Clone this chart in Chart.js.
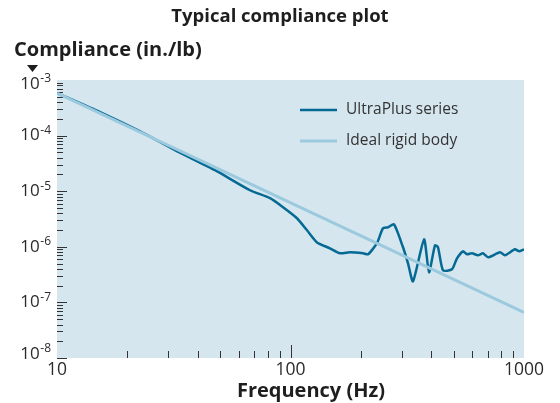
<!DOCTYPE html>
<html>
<head>
<meta charset="utf-8">
<script src="https://cdn.jsdelivr.net/npm/chart.js@4/dist/chart.umd.min.js"></script>
<style>
  body { margin: 0; background: #fff; }
  #wrap { width: 560px; height: 403px; }
</style>
</head>
<body>
<div id="wrap"><canvas id="myChart" width="560" height="403"></canvas></div>
<script>
// values
const freq = [10, 15.3, 22.6, 32.0, 47.5, 67.1, 81.7, 92.9, 106.6, 117.7, 129.9, 147.5, 162.9, 179.8,
  204.6, 214.9, 234.6, 248.9, 261.6, 277.4, 303.3, 318.6, 334.7, 373.3, 391.9, 415.7, 428.3, 449.8,
  491.7, 516.4, 548.0, 570.0, 598.6, 635.3, 667.4, 701.5, 789.2, 829.0, 915.0, 952.5, 1000]
const ultraPlus = [5.83e-4, 2.65e-4, 1.20e-4, 5.48e-5, 2.39e-5, 1.04e-5, 7.48e-6, 5.15e-6, 3.26e-6, 1.98e-6,
  1.20e-6, 9.40e-7, 7.64e-7, 7.96e-7, 7.64e-7, 7.33e-7, 1.16e-6, 2.15e-6, 2.24e-6, 2.54e-6, 9.80e-7,
  5.04e-7, 2.39e-7, 1.36e-6, 3.48e-7, 1.06e-6, 9.80e-7, 3.78e-7, 3.94e-7, 6.21e-7, 8.30e-7, 7.33e-7,
  7.64e-7, 7.03e-7, 7.64e-7, 6.47e-7, 7.96e-7, 7.03e-7, 9.01e-7, 8.30e-7, 9.01e-7]
const idealFreq = [10, 1000]
const idealRigid = [5.8e-4, 6.6e-8]

const seriesNames = ['UltraPlus series', 'Ideal rigid body']
const yExponents = [-3, -4, -5, -6, -7, -8]
const xTickLabels = [10, 100, 1000]

const darkBlue = '#046a93'
const lightBlue = '#9bc9de'
const textColor = '#2b2b2b'
const font = '"Open Sans", "DejaVu Sans", sans-serif'

function toPoints(xs, ys) {
  return xs.map((x, i) => ({ x: x, y: ys[i] }))
}

// background, ticks, labels, legend and titles are drawn by hand
const decorations = {
  id: 'decorations',
  beforeDatasetsDraw(chart) {
    const ctx = chart.ctx
    const a = chart.chartArea
    const xs = chart.scales.x
    const ys = chart.scales.y
    ctx.save()
    ctx.fillStyle = '#d6e6ef'
    ctx.fillRect(a.left, a.top, a.right - a.left, a.bottom - a.top)

    ctx.strokeStyle = '#333'
    ctx.lineWidth = 1
    ctx.beginPath()
    // y ticks on the left edge, pointing in
    for (let e = -8; e < -3; e++) {
      for (let m = 1; m < 10; m++) {
        const y = Math.round(ys.getPixelForValue(m * Math.pow(10, e))) + 0.5
        const len = m == 1 ? 10 : 6
        ctx.moveTo(a.left, y)
        ctx.lineTo(a.left + len, y)
      }
    }
    // x ticks on the bottom edge, pointing up
    for (let e = 1; e < 3; e++) {
      for (let m = 1; m < 10; m++) {
        if (e == 1 && m == 1) continue
        const x = Math.round(xs.getPixelForValue(m * Math.pow(10, e))) + 0.5
        const len = m == 1 ? 13 : 7
        ctx.moveTo(x, a.bottom)
        ctx.lineTo(x, a.bottom - len)
      }
    }
    ctx.stroke()
    ctx.restore()
  },
  afterDraw(chart) {
    const ctx = chart.ctx
    const xs = chart.scales.x
    const ys = chart.scales.y
    ctx.save()
    ctx.fillStyle = textColor

    // y tick labels: 10 with superscript exponent
    yExponents.forEach((e, i) => {
      let y = ys.getPixelForValue(Math.pow(10, e))
      if (i == 0) y += 4
      if (i == yExponents.length - 1) y -= 4
      ctx.font = '12px ' + font
      const exp = '-' + Math.abs(e)
      const ew = ctx.measureText(exp).width
      ctx.textBaseline = 'middle'
      ctx.textAlign = 'left'
      ctx.fillText(exp, 51 - ew, y - 5)
      ctx.font = '17px ' + font
      ctx.textAlign = 'right'
      ctx.fillText('10', 51 - ew - 0.5, y)
    })

    // x tick labels
    ctx.font = '17.5px ' + font
    ctx.textAlign = 'center'
    ctx.textBaseline = 'middle'
    xTickLabels.forEach(v => {
      ctx.fillText(String(v), xs.getPixelForValue(v), 370)
    })

    // titles
    ctx.fillStyle = '#1e1e1e'
    ctx.font = 'bold 18.5px ' + font
    ctx.fillText('Typical compliance plot', 280, 17)
    ctx.font = 'bold 20px ' + font
    ctx.fillText('Frequency (Hz)', 311, 391)
    ctx.textAlign = 'left'
    ctx.fillText('Compliance (in./lb)', 14, 50)

    // little arrow under the y title
    ctx.beginPath()
    ctx.moveTo(27, 65)
    ctx.lineTo(38, 65)
    ctx.lineTo(32.5, 72)
    ctx.closePath()
    ctx.fill()

    // legend
    const colors = [darkBlue, lightBlue]
    const widths = [2.5, 3]
    seriesNames.forEach((name, i) => {
      const y = 110 + i * 31
      ctx.strokeStyle = colors[i]
      ctx.lineWidth = widths[i]
      ctx.beginPath()
      ctx.moveTo(300, y)
      ctx.lineTo(337, y)
      ctx.stroke()
      ctx.fillStyle = '#333'
      ctx.font = '15.5px ' + font
      ctx.textAlign = 'left'
      ctx.fillText(name, 346, y)
    })
    ctx.restore()
  }
}

const ctx = document.getElementById('myChart')

const myChart = new Chart(ctx, {
  type: 'line',
  data: {
    datasets: [{
      label: seriesNames[1],
      data: toPoints(idealFreq, idealRigid),
      borderColor: lightBlue,
      borderWidth: 3,
      pointRadius: 0,
      fill: false
    }, {
      label: seriesNames[0],
      data: toPoints(freq, ultraPlus),
      borderColor: darkBlue,
      borderWidth: 2.5,
      pointRadius: 0,
      tension: 0.2,
      fill: false
    }]
  },
  options: {
    responsive: false,
    animation: false,
    layout: { padding: { left: 57, right: 36, top: 80, bottom: 45 } },
    plugins: {
      legend: { display: false },
      tooltip: { enabled: false }
    },
    scales: {
      x: { type: 'logarithmic', min: 10, max: 1000, display: false },
      y: { type: 'logarithmic', min: 1e-8, max: 1e-3, display: false }
    }
  },
  plugins: [decorations]
})
</script>
</body>
</html>
